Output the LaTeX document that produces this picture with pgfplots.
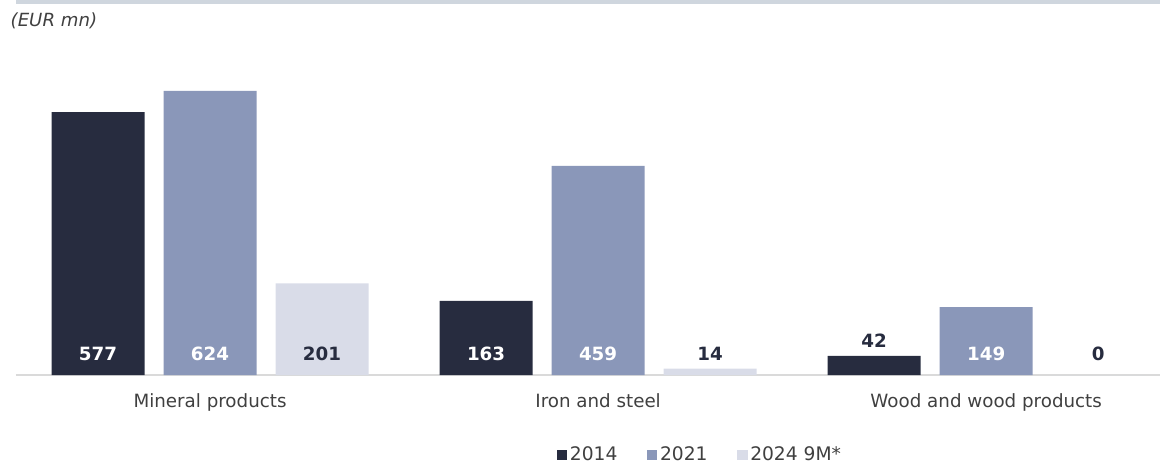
\documentclass[border=0pt]{standalone}
\usepackage{fontspec}
\setmainfont{DejaVu Sans}
\usepackage{pgfplots}
\pgfplotsset{compat=1.18}

\definecolor{cNavy}{HTML}{272C3F}
\definecolor{cSlate}{HTML}{8A97B9}
\definecolor{cPale}{HTML}{D9DCE8}
\definecolor{cStrip}{HTML}{CFD6DE}
\definecolor{cText}{HTML}{404040}
\definecolor{cAxis}{HTML}{DADADA}

\begin{document}
\begin{tikzpicture}
\useasboundingbox (-12pt,-67.5pt) rectangle (858pt,281.25pt);
\fill[cStrip] (0pt,278pt) rectangle (858pt,281.25pt);
\node[anchor=west, font=\fontsize{13.6}{16}\selectfont\itshape, text=cText] at (-7.5pt,265.5pt) {(EUR mn)};
\begin{axis}[
    at={(0pt,0pt)}, anchor=south west,
    scale only axis,
    width=858pt, height=235.7pt,
    xmin=-0.5, xmax=2.448,
    ymin=0, ymax=690,
    enlargelimits=false,
    clip=false,
    ybar,
    bar width=69.75pt,
    axis x line*=bottom,
    axis y line=none,
    axis line style={cAxis, line width=1.5pt},
    xtick={0,1,2},
    xticklabels={Mineral products, Iron and steel, Wood and wood products},
    major tick length=0pt,
    xticklabel style={font=\fontsize{13.7}{16}\selectfont, text=cText, anchor=base, yshift=-24.5pt},
    ytick=\empty,
    legend style={at={(0.598,-0.2546)}, anchor=center, draw=none,
        font=\fontsize{14}{16}\selectfont, text=cText,
        /tikz/every even column/.append style={column sep=20pt}},
    legend columns=-1,
    legend image code/.code={\fill[#1] (0pt,-4pt) rectangle (8pt,4pt);},
    every node near coord/.append style={anchor=center, font=\bfseries\fontsize{13.7}{15}\selectfont},
]
% bars
\addplot[fill=cNavy, draw=none, bar shift=-84pt] coordinates {(0,577) (1,163) (2,42)};
\addplot[fill=cSlate, draw=none, bar shift=0pt] coordinates {(0,624) (1,459) (2,149)};
\addplot[fill=cPale, draw=none, bar shift=84pt] coordinates {(0,201) (1,14) (2,0)};
\legend{2014, 2021, 2024 9M*}

% value labels
\addplot[forget plot, draw=none, fill=none, bar shift=-84pt,
    nodes near coords, point meta=explicit symbolic,
    every node near coord/.append style={text=white}]
    coordinates {(0,47)[577] (1,47)[163]};
\addplot[forget plot, draw=none, fill=none, bar shift=-84pt,
    nodes near coords, point meta=explicit symbolic,
    every node near coord/.append style={text=cNavy}]
    coordinates {(2,76)[42]};
\addplot[forget plot, draw=none, fill=none, bar shift=0pt,
    nodes near coords, point meta=explicit symbolic,
    every node near coord/.append style={text=white}]
    coordinates {(0,47)[624] (1,47)[459] (2,47)[149]};
\addplot[forget plot, draw=none, fill=none, bar shift=84pt,
    nodes near coords, point meta=explicit symbolic,
    every node near coord/.append style={text=cNavy}]
    coordinates {(0,47)[201] (1,47)[14] (2,47)[0]};
\end{axis}
\end{tikzpicture}
\end{document}
